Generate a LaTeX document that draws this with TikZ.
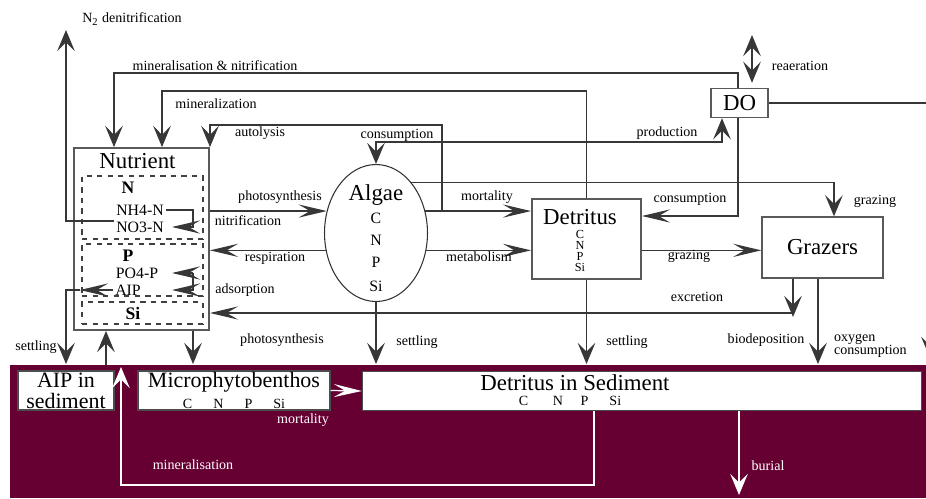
\documentclass[tikz,border=0pt]{standalone}
\usepackage{fontspec}
\setmainfont{Liberation Serif}
\usetikzlibrary{shapes,arrows.meta,positioning,calc}
\definecolor{sediment}{RGB}{102,0,51}
\definecolor{lineg}{RGB}{55,55,55}

\begin{document}
\begin{tikzpicture}[x=0.02cm,y=-0.02cm,
    lbl/.style={font=\fontsize{8}{9}\selectfont,inner sep=1pt},
    wlbl/.style={lbl,text=white},
    ttl/.style={font=\fontsize{13}{15}\selectfont,inner sep=1pt},
    elem/.style={font=\fontsize{9}{10}\selectfont,inner sep=1pt},
    elemS/.style={font=\fontsize{7}{8}\selectfont,inner sep=0pt},
    elemB/.style={font=\fontsize{10}{11}\selectfont\bfseries,inner sep=1pt},
    pool/.style={rectangle,draw=black!65,line width=1.1pt,fill=white,inner sep=0pt,font=\fontsize{13}{15}\selectfont},
    spool/.style={rectangle,draw=black!70,line width=0.8pt,fill=white,inner sep=0pt,align=center,font=\fontsize{12.5}{12}\selectfont},
    sub/.style={rectangle,draw=black!75,dashed,line width=0.6pt,inner sep=0pt},
    vflow/.style={draw=lineg,line width=0.7pt,-{Stealth[length=12pt,width=10pt,inset=5pt]}},
    hflow/.style={draw=lineg,line width=0.7pt,-{Stealth[length=16pt,width=7.5pt,inset=6.5pt]}},
    dflow/.style={draw=lineg,line width=0.7pt,{Stealth[length=12pt,width=10pt,inset=5pt]}-{Stealth[length=12pt,width=10pt,inset=5pt]}},
    wvflow/.style={draw=white,line width=0.7pt,-{Stealth[length=12pt,width=10pt,inset=5pt]}},
    whflow/.style={draw=white,line width=0.7pt,-{Stealth[length=16pt,width=7.5pt,inset=6.5pt]}}]

    \useasboundingbox (0,0) rectangle (926,498);
    \clip (0,0) rectangle (926,498);
    \fill[sediment] (10,365) rectangle (926,498);
    \coordinate (bt) at (0,364);

    \node[pool,minimum width=2.7cm,minimum height=3.64cm] (nutr) at (141.5,239) {};
    \node[ttl] (nutrT) at (137.5,161) {Nutrient};
    \node[sub,minimum width=2.42cm,minimum height=1.26cm] (boxN) at (142.5,207.5) {};
    \node[sub,minimum width=2.42cm,minimum height=1.04cm] (boxP) at (142.5,270) {};
    \node[sub,minimum width=2.42cm,minimum height=0.44cm] (boxSi) at (142.5,313) {};
    \node[elemB] (nN) at (128,188) {N};
    \node[elem] (nh4) at (140,210) {NH4-N};
    \node[elem] (no3) at (140,227) {NO3-N};
    \node[elemB] (nP) at (128,256) {P};
    \node[elem] (po4) at (137,273) {PO4-P};
    \node[elem] (aip) at (128,290) {AIP};
    \node[elemB] (nSi) at (133,313) {Si};

    \node[ellipse,draw=black!80,line width=0.6pt,minimum width=2.06cm,minimum height=2.74cm,inner sep=0pt] (alg) at (376,233) {};
    \node[ttl] (algT) at (376,195) {Algae};
    \foreach \e/\y in {C/218,N/240,P/262,Si/286}
        \node[elem] (alg\e) at (376,\y) {\e};

    \node[pool,minimum width=2.18cm,minimum height=1.6cm] (det) at (586.5,239) {};
    \node[ttl] (detT) at (580,217) {Detritus};
    \foreach \e/\y in {C/234,N/245,P/256,Si/267}
        \node[elemS] (det\e) at (580,\y) {\e};

    \node[pool,line width=0.8pt,minimum width=2.42cm,minimum height=1.22cm] (gra) at (822.5,247.5) {Grazers};
    \node[pool,line width=0.8pt,minimum width=1.14cm,minimum height=0.58cm] (do) at (739.5,103) {DO};

    \node[spool,minimum width=1.92cm,minimum height=0.78cm] (aipsed) at (66,390.5) {AIP in\\sediment};
    \node[spool,minimum width=3.84cm,minimum height=0.78cm] (mpb) at (234,390.5)
        {Microphytobenthos\\{\fontsize{8}{9}\selectfont C\hspace{12pt}N\hspace{12pt}P\hspace{12pt}Si}};
    \node[spool,minimum width=11.18cm,minimum height=0.78cm] (dsed) at (642,391) {};
    \node[ttl] (dsedT) at (575,383) {Detritus in Sediment};
    \node[elemS,font=\fontsize{8}{9}\selectfont] (dsedE) at (570,401) {C\hspace{14pt}N\hspace{10pt}P\hspace{12pt}Si};

    \coordinate (n2T) at (66,30);
    \draw[vflow] ($(no3.west)+(0,-6)$) -| (n2T);

    \coordinate (mnX) at (738,216);
    \coordinate (mnA) at (114,73);
    \draw[vflow] (do.north -| mnX) |- (mnA) -- (mnA |- nutr.north);
    \draw[hflow] (do.south -| mnX) -- (mnX) -- (mnX -| det.east);

    \coordinate (mzA) at (162,91);
    \draw[vflow] (det.north) |- (mzA) -- (mzA |- nutr.north);

    \coordinate (auA) at (210,125);
    \coordinate (auB) at (442,211);
    \draw[vflow] (auB) |- (auA) -- (auA |- nutr.north);

    \coordinate (cpA) at (376,142);
    \coordinate (prodT) at ($(do.south)+(-17.5,0)$);
    \draw[dflow] (alg.north) -- (cpA) -| (prodT);

    \coordinate (grA) at (834,183);
    \draw[vflow] (alg.55) -- (alg.55 -| grA) -- (grA |- gra.north);

    \draw[hflow] (nutr.east |- alg.156) -- (alg.156);
    \draw[hflow] (alg.199) -- (alg.199 -| nutr.east);
    \draw[hflow] (alg.24) -- (alg.24 -| det.west);
    \draw[hflow] (alg.-19) -- (alg.-19 -| det.west);
    \draw[hflow] (alg.-19 -| det.east) -- (alg.-19 -| gra.west);

    \coordinate (niX) at (193,0);
    \coordinate (tipX) at (172,0);
    \draw[hflow] (nh4.east) -| (no3.east -| niX) -- (no3.east -| tipX);
    \draw[hflow] (po4.east -| niX) -- (po4.east -| tipX);
    \draw[hflow] (po4.east -| niX) -- (aip.east -| niX) -- (aip.east -| tipX);

    \coordinate (aipL) at (80,0);
    \draw[hflow] (aip.west) -- (aip.west -| aipL);
    \draw[vflow] (aip.west -| aipL) -| (aipsed.north |- bt);

    \coordinate (upX) at (106,365);
    \draw[vflow] (upX) -- (upX |- nutr.south);
    \draw[vflow] (nutr.south -| niX) -- (niX |- bt);
    \draw[vflow] (alg.south) -- (alg.south |- bt);
    \draw[vflow] (det.south) -- (det.south |- bt);

    \coordinate (exA) at (793,313);
    \draw[hflow] (exA) -- (exA -| nutr.east);
    \draw[vflow] (gra.south -| exA) -- ($(exA)+(0,4)$);

    \coordinate (bdX) at (818,0);
    \draw[vflow] (gra.south -| bdX) -- (bdX |- bt);

    \coordinate (doR) at (930,103);
    \coordinate (doB) at (930,358);
    \draw[vflow] (do.east) -- (doR) -- (doB);

    \coordinate (reT) at (752,35);
    \draw[dflow] (reT) -- ($(reT |- do.north)+(0,-5)$);

    \draw[whflow] (mpb.east) -- (dsed.west);
    \coordinate (msB) at (594,485);
    \coordinate (msT) at (121,367);
    \draw[wvflow] (dsed.south -| msB) -- (msB) -| (msT);
    \coordinate (buB) at (739,495);
    \draw[wvflow] (dsed.south -| buB) -- (buB);

    \node[lbl] at (132,19) {N\textsubscript{2} denitrification};
    \node[lbl] at (215,66) {mineralisation \& nitrification};
    \node[lbl] at (216,104) {mineralization};
    \node[lbl] at (260,133) {autolysis};
    \node[lbl] at (397,135) {consumption};
    \node[lbl] at (667,133) {production};
    \node[lbl] at (800,66) {reaeration};
    \node[lbl] at (280,197) {photosynthesis};
    \node[lbl] at (248,221) {nitrification};
    \node[lbl] at (275,258) {respiration};
    \node[lbl] at (245,290) {adsorption};
    \node[lbl] at (487,197) {mortality};
    \node[lbl] at (479,257) {metabolism};
    \node[lbl] at (690,199) {consumption};
    \node[lbl] at (875,201) {grazing};
    \node[lbl] at (689,256) {grazing};
    \node[lbl] at (697,297) {excretion};
    \node[lbl] at (36,347) {settling};
    \node[lbl] at (282,340) {photosynthesis};
    \node[lbl] at (417,342) {settling};
    \node[lbl] at (627,342) {settling};
    \node[lbl] at (766,340) {biodeposition};
    \node[lbl,align=left,anchor=west] at (832,346) {oxygen\\[-2pt]consumption};
    \node[wlbl] at (303,420) {mortality};
    \node[wlbl] at (193,465) {mineralisation};
    \node[wlbl] at (768,466) {burial};
\end{tikzpicture}
\end{document}
